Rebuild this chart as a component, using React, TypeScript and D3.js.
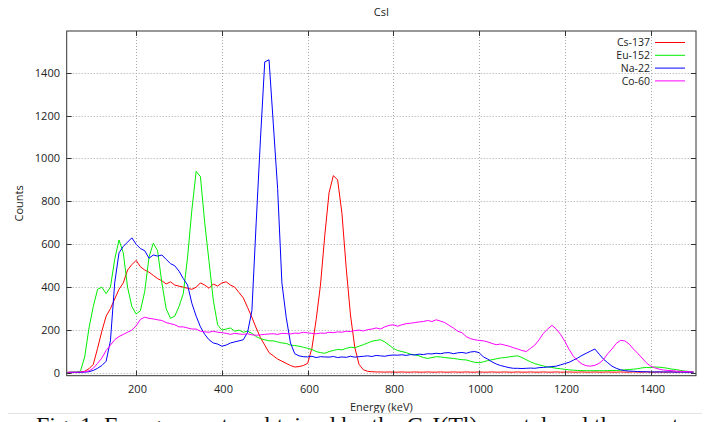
import React from 'react';
import * as d3 from 'd3';

// Energy axis (keV), one sample every 10 keV from 40 to 1500
const energies: number[] = d3.range(40, 1501, 10);

const cs137 = [
  3, 4, 3, 5, 8, 20, 40, 115, 195, 265,
  300, 345, 390, 420, 480, 505, 525, 495, 480, 470,
  455, 440, 430, 415, 425, 410, 405, 400, 395, 390,
  400, 420, 410, 395, 415, 405, 420, 425, 410, 400,
  375, 350, 305, 260, 210, 165, 130, 95, 80, 65,
  55, 45, 35, 28, 30, 35, 45, 115, 250, 410,
  640, 840, 920, 900, 745, 490, 270, 120, 40, 15,
  8, 6, 5, 5, 4, 5, 4, 4, 5, 4,
  4, 5, 4, 4, 5, 4, 4, 5, 4, 4,
  5, 4, 4, 5, 4, 4, 5, 4, 4, 5,
  4, 4, 5, 4, 4, 5, 4, 4, 5, 4,
  4, 5, 4, 4, 5, 4, 4, 5, 4, 4,
  5, 4, 4, 5, 4, 4, 5, 4, 4, 5,
  4, 4, 5, 4, 4, 5, 4, 4, 5, 4,
  4, 5, 4, 4, 5, 4, 4,
];

const eu152 = [
  3, 4, 5, 8, 75, 210, 310, 390, 400, 370,
  400, 530, 620, 560, 400, 310, 275, 290, 380, 540,
  605, 570, 420, 300, 255, 265, 310, 370, 540, 760,
  940, 915, 700, 520, 340, 225, 200, 205, 210, 195,
  200, 190, 195, 185, 170, 160, 155, 150, 150, 145,
  140, 138, 130, 128, 125, 120, 115, 110, 100, 95,
  92, 100, 105, 110, 108, 115, 120, 118, 125, 132,
  140, 148, 152, 155, 145, 130, 115, 105, 100, 95,
  88, 85, 80, 72, 68, 72, 76, 75, 72, 70,
  68, 65, 62, 61, 55, 50, 48, 52, 58, 62,
  66, 70, 72, 75, 78, 80, 72, 62, 52, 44,
  38, 33, 28, 26, 22, 20, 17, 15, 13, 12,
  11, 11, 11, 11, 11, 11, 11, 12, 12, 13,
  15, 16, 18, 20, 24, 26, 25, 28, 27, 25,
  22, 18, 16, 12, 9, 7, 5,
];

const na22 = [
  2, 3, 3, 3, 4, 6, 12, 22, 35, 55,
  150, 420, 560, 590, 610, 630, 600, 580, 570, 535,
  550, 545, 550, 530, 510, 500, 475, 440, 410, 325,
  265, 215, 180, 155, 140, 135, 125, 130, 140, 145,
  150, 155, 190, 290, 700, 1090, 1450, 1460, 1160, 860,
  420, 260, 140, 90, 80, 76, 75, 78, 72, 76,
  75, 74, 77, 72, 75, 73, 78, 74, 76, 78,
  80, 77, 82, 80, 78, 82, 84, 83, 85, 82,
  86, 84, 88, 86, 90, 89, 92, 90, 94, 95,
  90, 94, 96, 92, 98, 100, 95, 75, 65, 52,
  42, 35, 30, 25, 22, 22, 21, 22, 23, 22,
  25, 26, 28, 30, 32, 38, 44, 50, 60, 70,
  82, 92, 102, 112, 88, 65, 48, 32, 22, 15,
  11, 9, 8, 7, 6, 6, 5, 5, 5, 5,
  5, 5, 4, 5, 4, 4, 4,
];

const co60 = [
  3, 4, 4, 5, 6, 10, 22, 45, 70, 105,
  130, 155, 170, 180, 190, 200, 220, 250, 260, 255,
  252, 248, 245, 235, 230, 225, 215, 215, 210, 205,
  205, 195, 192, 190, 195, 190, 188, 185, 180, 185,
  182, 180, 183, 178, 176, 178, 180, 182, 183, 180,
  185, 184, 182, 186, 185, 190, 187, 185, 183, 186,
  185, 190, 188, 192, 190, 195, 193, 198, 200, 196,
  202, 205, 210, 205, 215, 222, 225, 218, 225, 230,
  232, 235, 238, 240, 245, 240, 248, 242, 235, 222,
  210, 195, 188, 170, 160, 155, 152, 150, 145, 138,
  132, 135, 130, 125, 118, 112, 105, 100, 115, 130,
  155, 185, 205, 222, 205, 180, 148, 110, 78, 58,
  42, 34, 32, 36, 45, 62, 90, 112, 138, 152,
  150, 135, 112, 92, 70, 48, 32, 24, 18, 14,
  12, 11, 9, 8, 7, 6, 5,
];

const seriesNames = ['Cs-137', 'Eu-152', 'Na-22', 'Co-60'];
const seriesColors = ['#ff0000', '#00ee00', '#0000ff', '#ff00ff'];
const seriesValues = [cs137, eu152, na22, co60];

const xTicks = [200, 400, 600, 800, 1000, 1200, 1400];
const yTicks = [0, 200, 400, 600, 800, 1000, 1200, 1400];

const FONT = '"Open Sans", "DejaVu Sans", sans-serif';

export default function App() {
  const W = 710;
  const H = 422;
  const L = 66.7, R = 696, T = 31, B = 375.7;
  const x = d3.scaleLinear().domain([38, 1506]).range([L, R]);
  const y = d3.scaleLinear().domain([-12.5, 1594]).range([B, T]);
  const line = d3
    .line<number>()
    .x((_, i) => x(energies[i]))
    .y((d) => y(d));

  const gridStyle = { stroke: '#a8a8a8', strokeWidth: 1, strokeDasharray: '1,2' };
  const axisColor = '#333';
  const tickLen = 5;

  return (
    <svg
      width={W}
      height={H}
      style={{ position: 'absolute', left: 0, top: 0, display: 'block', background: '#fff' }}
      fontFamily={FONT}
    >
      <rect x={0} y={0} width={W} height={H} fill="#fff" />
      <defs>
        <clipPath id="plotclip">
          <rect x={L} y={T} width={R - L} height={B - T} />
        </clipPath>
      </defs>

      {/* grid */}
      {yTicks.map((t) => (
        <line key={'gy' + t} x1={L} x2={R} y1={Math.round(y(t)) + 0.5} y2={Math.round(y(t)) + 0.5} {...gridStyle} />
      ))}
      {xTicks.map((t) => (
        <line key={'gx' + t} y1={T} y2={B} x1={Math.round(x(t)) + 0.5} x2={Math.round(x(t)) + 0.5} {...gridStyle} />
      ))}

      {/* series */}
      <g clipPath="url(#plotclip)">
        {seriesValues.map((vals, k) => (
          <path
            key={seriesNames[k]}
            d={line(vals) || ''}
            fill="none"
            stroke={seriesColors[k]}
            strokeWidth={1}
            strokeLinejoin="round"
          />
        ))}
      </g>

      {/* border */}
      <rect x={L} y={T} width={R - L} height={B - T} fill="none" stroke={axisColor} strokeWidth={1} />

      {/* ticks */}
      {yTicks.map((t) => {
        const yy = Math.round(y(t)) + 0.5;
        return (
          <g key={'ty' + t}>
            <line x1={L} x2={L + tickLen} y1={yy} y2={yy} stroke={axisColor} />
            <line x1={R} x2={R - tickLen} y1={yy} y2={yy} stroke={axisColor} />
            <text x={60} y={yy} dy="0.35em" textAnchor="end" fontSize={11} fill="#222">
              {t}
            </text>
          </g>
        );
      })}
      {xTicks.map((t) => {
        const xx = Math.round(x(t)) + 0.5;
        return (
          <g key={'tx' + t}>
            <line x1={xx} x2={xx} y1={B} y2={B - tickLen} stroke={axisColor} />
            <line x1={xx} x2={xx} y1={T} y2={T + tickLen} stroke={axisColor} />
            <text x={xx + 1} y={389} dy="0.35em" textAnchor="middle" fontSize={11} fill="#222">
              {t}
            </text>
          </g>
        );
      })}

      {/* titles */}
      <text x={(L + R) / 2} y={12} dy="0.35em" textAnchor="middle" fontSize={11} fill="#222">
        CsI
      </text>
      <text x={(L + R) / 2} y={407} dy="0.35em" textAnchor="middle" fontSize={11} fill="#222">
        Energy (keV)
      </text>
      <text
        transform={`translate(19,${(T + B) / 2}) rotate(-90)`}
        dy="0.35em"
        textAnchor="middle"
        fontSize={11}
        fill="#222"
      >
        Counts
      </text>

      {/* legend */}
      {seriesNames.map((n, k) => {
        const ly = 42.5 + k * 12.8;
        return (
          <g key={'lg' + n}>
            <text x={650} y={ly} dy="0.35em" textAnchor="end" fontSize={10.5} fill="#222">
              {n}
            </text>
            <line x1={655} x2={685} y1={ly} y2={ly} stroke={seriesColors[k]} strokeWidth={1} />
          </g>
        );
      })}

      {/* caption fragment of the page below the figure */}
      <line x1={8} x2={702} y1={413.5} y2={413.5} stroke="#e2e2e2" strokeWidth={1} />
      <text x={36} y={433} fontFamily='"Liberation Serif", "DejaVu Serif", serif' fontSize={24} fill="#111">
        Fig. 1.  Energy spectra obtained by the CsI(Tl) crystal and the spectra of
      </text>
    </svg>
  );
}
